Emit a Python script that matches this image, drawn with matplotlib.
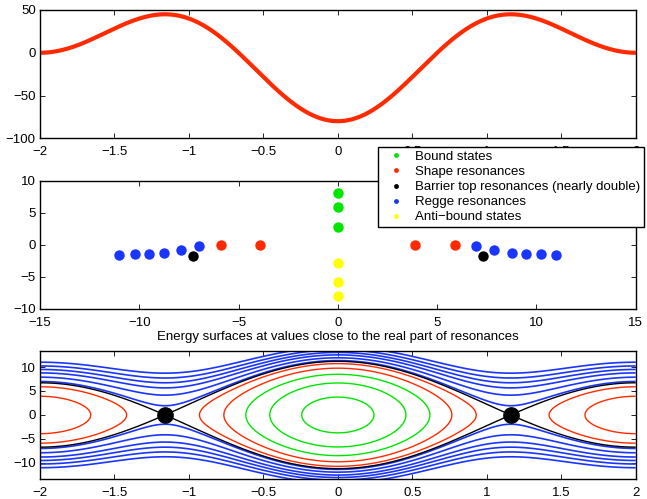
import numpy as np
import matplotlib
matplotlib.use("Agg")
import matplotlib.pyplot as plt
from matplotlib.lines import Line2D
from matplotlib.ticker import FuncFormatter

plt.rcParams['font.family'] = ['Liberation Sans', 'DejaVu Sans']
plt.rcParams['font.size'] = 9.5
plt.rcParams['contour.negative_linestyle'] = 'solid'

# ---- data ----
# potential model V(x) = a1*cos(pi x/2) + a2*cos(pi x)
pot_a1 = -40.0
pot_a2 = -40.0

# resonances / states in the complex k plane (positive-real-part side, mirrored)
bound_im = [8.13, 5.96, 2.85]
antibound_im = [-2.85, -5.86, -7.93]
shape_re = [3.90, 5.88]
shape_im = [0.0, 0.0]
barrier_re = [7.30]
barrier_im = [-1.68]
regge_re = [6.98, 7.88, 8.77, 9.49, 10.22, 11.00]
regge_im = [-0.24, -0.78, -1.20, -1.38, -1.45, -1.55]

C_RED = '#ff2a00'
C_GREEN = '#00e600'
C_BLUE = '#1a35ff'
C_YELLOW = '#ffff00'
C_BLACK = 'black'

FS = 9.5


def V(x):
    return pot_a1 * np.cos(np.pi * x / 2) + pot_a2 * np.cos(np.pi * x)


fig = plt.figure(figsize=(6.47, 4.99), dpi=100)
W, H = 647.0, 499.0


def ax_at(l, t, r, b):
    return fig.add_axes([l / W, 1 - b / H, (r - l) / W, (b - t) / H])


fmt = FuncFormatter(lambda v, pos: ('%g' % v).replace('-', '\u2212'))


def style(ax):
    ax.tick_params(direction='in', top=True, right=True, length=3.5, width=0.6,
                   labelsize=FS)
    ax.tick_params(axis='x', pad=5.5)
    ax.tick_params(axis='y', pad=3)
    ax.xaxis.set_major_formatter(fmt)
    ax.yaxis.set_major_formatter(fmt)
    for s in ax.spines.values():
        s.set_linewidth(1.0)


ax1 = ax_at(40, 10, 635.7, 138.3)
ax2 = ax_at(40, 180.7, 635.7, 309)
ax3 = ax_at(40, 350.7, 635.7, 479)

# ---- top: potential ----
xs = np.linspace(-2, 2, 600)
ax1.plot(xs, V(xs), color=C_RED, lw=3.0, solid_capstyle='butt')
ax1.set_xlim(-2, 2)
ax1.set_ylim(-100, 50)
ax1.set_xticks(np.arange(-2, 2.01, 0.5))
ax1.set_yticks([-100, -50, 0, 50])
style(ax1)

# ---- middle: complex plane ----
ms = 7.5
bre = np.array(regge_re); bim = np.array(regge_im)
ax2.plot(np.r_[-bre[::-1], bre], np.r_[bim[::-1], bim], 'o', color=C_BLUE, ms=ms, mec='none', ls='none')
sre = np.array(shape_re); sim = np.array(shape_im)
ax2.plot(np.r_[-sre, sre], np.r_[sim, sim], 'o', color=C_RED, ms=ms, mec='none', ls='none')
ax2.plot(np.zeros(len(bound_im)), bound_im, 'o', color=C_GREEN, ms=ms, mec='none', ls='none')
ax2.plot(np.zeros(len(antibound_im)), antibound_im, 'o', color=C_YELLOW, ms=ms, mec='none', ls='none')
tre = np.array(barrier_re); tim = np.array(barrier_im)
ax2.plot(np.r_[-tre, tre], np.r_[tim, tim], 'o', color=C_BLACK, ms=ms, mec='none', ls='none')
ax2.set_xlim(-15, 15)
ax2.set_ylim(-10, 10)
ax2.set_xticks(np.arange(-15, 16, 5))
ax2.set_yticks(np.arange(-10, 11, 5))
style(ax2)

# ---- bottom: energy surfaces H = p^2 + V(x) ----
gx = np.linspace(-2, 2, 800)
gp = np.linspace(-14, 14, 800)
X, P = np.meshgrid(gx, gp)
Hm = P ** 2 + V(X)

x_top = 2 / np.pi * np.arccos(-pot_a1 / (4 * pot_a2))
E_top = V(x_top)

E_bound = sorted([-(b ** 2) for b in bound_im])
E_shape = sorted([r ** 2 for r in shape_re])
E_regge = sorted([r ** 2 for r in regge_re])

ax3.contour(X, P, Hm, levels=E_bound, colors=C_GREEN, linewidths=1.0)
ax3.contour(X, P, Hm, levels=E_shape, colors=C_RED, linewidths=1.0)
ax3.contour(X, P, Hm, levels=E_regge, colors=C_BLUE, linewidths=1.2)
ax3.contour(X, P, Hm, levels=[E_top], colors=C_BLACK, linewidths=1.0)
ax3.plot([-x_top, x_top], [0, 0], 'o', color='black', ms=11, ls='none')
ax3.set_xlim(-2, 2)
ax3.set_ylim(-13.35, 13.4)
ax3.set_xticks(np.arange(-2, 2.01, 0.5))
ax3.set_yticks(np.arange(-10, 11, 5))
ax3.set_title('Energy surfaces at values close to the real part of resonances',
              fontsize=FS, pad=7.5)
style(ax3)

# ---- legend ----
labels = ['Bound states', 'Shape resonances', 'Barrier top resonances (nearly double)',
          'Regge resonances', 'Anti\u2212bound states']
cols = [C_GREEN, C_RED, C_BLACK, C_BLUE, C_YELLOW]
handles = [Line2D([], [], marker='o', ls='none', color=c, mec='none', ms=3.5) for c in cols]
leg = fig.legend(handles, labels, loc='upper left',
                 bbox_to_anchor=(378 / W, 1 - 146.7 / H), bbox_transform=fig.transFigure,
                 fontsize=FS, frameon=True, fancybox=False, framealpha=1,
                 edgecolor='black', borderaxespad=0, borderpad=0.3,
                 labelspacing=0.22, handlelength=2.1, handletextpad=0.4)
leg.get_frame().set_linewidth(1.0)
leg.set_zorder(10)

fig.savefig('out.png', dpi=100)
